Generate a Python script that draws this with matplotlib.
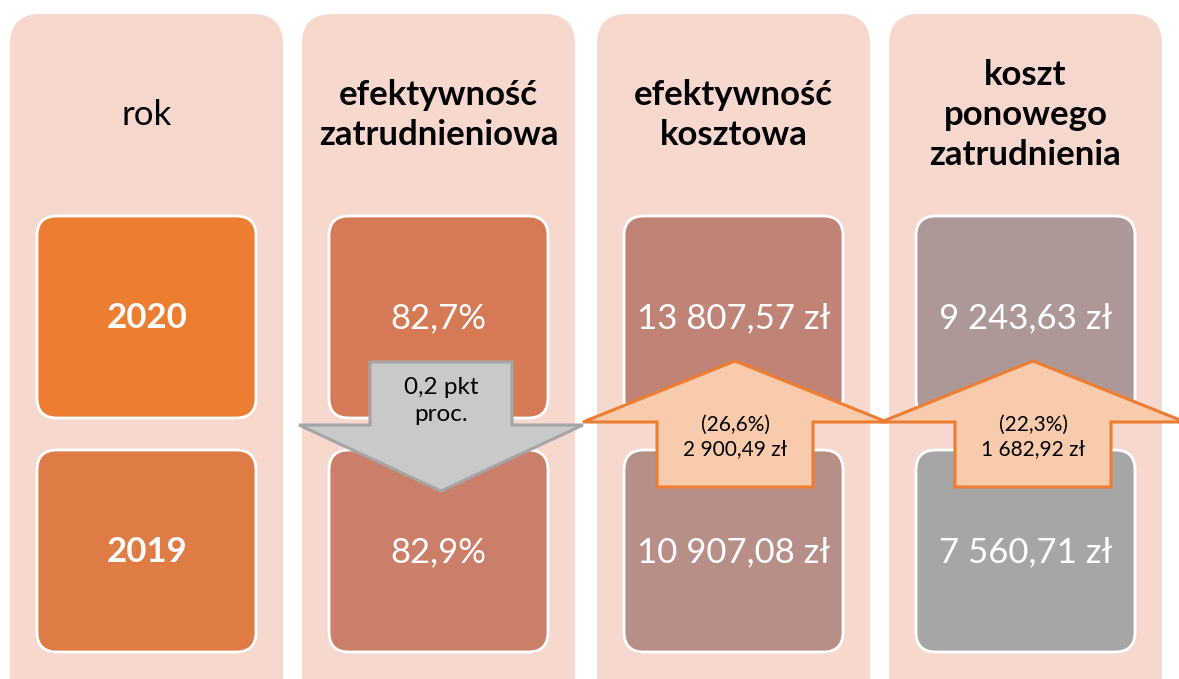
import matplotlib.pyplot as plt
from matplotlib.patches import FancyBboxPatch, Polygon

# data
headers = ["rok", "efektywność\nzatrudnieniowa", "efektywność\nkosztowa", "koszt\nponowego\nzatrudnienia"]
header_bold = [False, True, True, True]
years = ["2020", "2019"]
values_2020 = ["82,7%", "13 807,57 zł", "9 243,63 zł"]
values_2019 = ["82,9%", "10 907,08 zł", "7 560,71 zł"]
changes = ["0,2 pkt\nproc.", "(26,6%)\n2 900,49 zł", "(22,3%)\n1 682,92 zł"]
change_up = [False, True, True]

COLORS = {
    "outer": "#F7D8CE",
    "row2020": ["#ED7D31", "#D67A55", "#BF8476", "#AD9897"],
    "row2019": ["#DF7B45", "#CB7E68", "#B88E89", "#A6A6A6"],
    "down_fill": "#C9C9C9",
    "down_edge": "#A5A5A5",
    "up_fill": "#F8CBAD",
    "up_edge": "#ED7D31",
}
FONT = "Lato"

fig = plt.figure(figsize=(11.79, 6.79), dpi=100)
ax = fig.add_axes([0, 0, 1, 1])
ax.set_xlim(0, 1179)
ax.set_ylim(679, 0)
ax.axis("off")

col_left = [10, 302, 597, 889]
col_w = 273
inner_off = 27
inner_w = 219
row_top = [216, 450]
row_h = 202

for i, left in enumerate(col_left):
    ax.add_patch(FancyBboxPatch((left, 14), col_w, 720, boxstyle="round,pad=0,rounding_size=30",
                                fc=COLORS["outer"], ec="none", zorder=1))
    ax.text(left + col_w / 2, 115, headers[i], ha="center", va="center", fontsize=25,
            fontweight="bold" if header_bold[i] else "normal", family=FONT,
            linespacing=1.3, zorder=2)

    labels = [years[0], years[1]] if i == 0 else [values_2020[i - 1], values_2019[i - 1]]
    fills = [COLORS["row2020"][i], COLORS["row2019"][i]]
    for r, top in enumerate(row_top):
        ax.add_patch(FancyBboxPatch((left + inner_off, top), inner_w, row_h,
                                    boxstyle="round,pad=0,rounding_size=20",
                                    fc=fills[r], ec="white", lw=2, zorder=3))
        ax.text(left + inner_off + inner_w / 2, top + row_h / 2 + 1, labels[r], ha="center", va="center",
                fontsize=25, color="white", family=FONT,
                fontweight="bold" if i == 0 else "normal", zorder=4)

# change arrows between the two rows
arrow_cx = [441, 735, 1033]
for k, cx in enumerate(arrow_cx):
    if change_up[k]:
        shaft, head, top, base, bottom = 78, 152, 361, 422, 487
        pts = [(cx, top), (cx + head, base), (cx + shaft, base), (cx + shaft, bottom),
               (cx - shaft, bottom), (cx - shaft, base), (cx - head, base)]
        fc, ec = COLORS["up_fill"], COLORS["up_edge"]
        ty, fs, ls = 437, 15, 1.3
    else:
        shaft, head, top, base, bottom = 71, 142, 362, 425, 491
        pts = [(cx - shaft, top), (cx + shaft, top), (cx + shaft, base), (cx + head, base),
               (cx, bottom), (cx - head, base), (cx - shaft, base)]
        fc, ec = COLORS["down_fill"], COLORS["down_edge"]
        ty, fs, ls = 401, 17.5, 1.3
    ax.add_patch(Polygon(pts, closed=True, fc=fc, ec=ec, lw=2.2, joinstyle="miter", zorder=5 + k))
    ax.text(cx, ty, changes[k], ha="center", va="center", fontsize=fs, family=FONT,
            linespacing=ls, zorder=10)

fig.savefig("out.png", dpi=100, facecolor="white")
